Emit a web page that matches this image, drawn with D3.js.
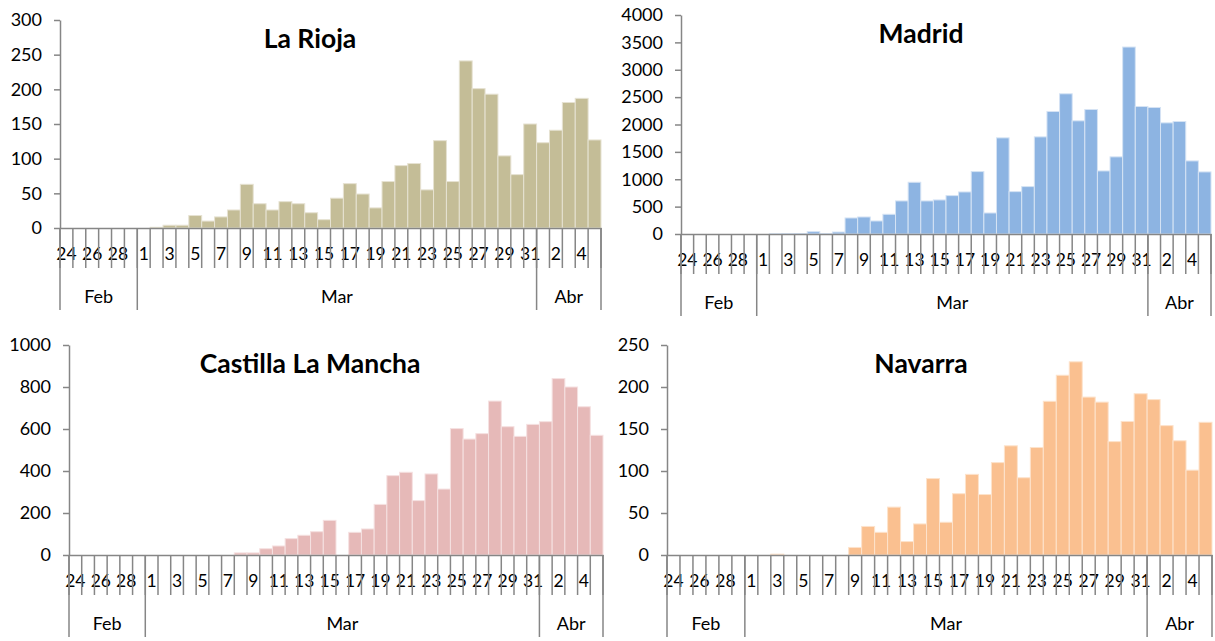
<!DOCTYPE html>
<html>
<head>
<meta charset="utf-8">
<script src="https://cdn.jsdelivr.net/npm/d3@7"></script>
<style>
  body { margin: 0; background: #fff; }
  svg { display: block; }
  text { font-family: Lato, "Open Sans", sans-serif; fill: #000; }
</style>
</head>
<body>
<script>
// days shown on the category axis (24 Feb - 5 Apr)
var dayLabels = ["24","25","26","27","28","29",
  "1","2","3","4","5","6","7","8","9","10","11","12","13","14","15","16",
  "17","18","19","20","21","22","23","24","25","26","27","28","29","30","31",
  "1","2","3","4","5"];
var monthNames = ["Feb", "Mar", "Abr"];
var monthLengths = [6, 31, 5];

var titles = ["La Rioja", "Madrid", "Castilla La Mancha", "Navarra"];

var rioja = [0,0,0,0,0,0,
  0,1,4,4,18,10,16,26,63,35,26,38,35,22,12,43,64,49,29,67,90,93,55,126,67,241,201,193,104,77,150,
  123,141,181,187,127];
var madrid = [0,0,0,0,0,0,
  0,3,5,8,43,5,36,293,311,238,360,604,945,604,622,701,768,1140,384,1756,774,866,1774,2238,2561,2067,2274,1152,1409,3415,2329,
  2311,2030,2055,1335,1134];
var castilla = [0,0,0,0,0,0,
  0,0,0,0,0,0,0,10,10,30,43,78,94,111,165,0,108,124,241,378,394,259,386,314,602,552,578,733,611,565,622,
  635,840,800,706,570];
var navarra = [0,0,0,0,0,0,
  0,0,1,0,0,0,0,0,9,34,27,57,16,37,91,39,73,96,72,110,130,92,128,183,214,230,188,182,135,159,192,
  185,154,136,101,158];

var yMax = [300, 4000, 1000, 250];
var yStep = [50, 500, 200, 50];

var w = 1215, h = 641;
var axisColor = "#868686";

var svg = d3.select("body").append("svg")
    .attr("width", w)
    .attr("height", h);

// panel layout (plot area in pixels)
var panels = [
  {left: 60,  right: 601,  top: 20,  zero: 228, titleX: 310, fill: "#c4bd97", stroke: "#e6e2d2"},
  {left: 681, right: 1211, top: 15,  zero: 234, titleX: 921, fill: "#8db4e2", stroke: "#d5e3f4"},
  {left: 69,  right: 603,  top: 345, zero: 555, titleX: 310, fill: "#e6b9b8", stroke: "#f5e1e1"},
  {left: 667, right: 1212, top: 345, zero: 555, titleX: 921, fill: "#fac090", stroke: "#fde3cc"}
];
var series = [rioja, madrid, castilla, navarra];

function drawPanel(p, values, title, max, step) {
    var idx = d3.range(values.length);
    var x = d3.scaleBand().domain(idx).range([p.left, p.right]).padding(0);
    var y = d3.scaleLinear().domain([0, max]).range([p.zero, p.top]);

    var g = svg.append("g");

    // bars (zero days draw nothing)
    g.selectAll("rect")
     .data(idx.filter(function(i) { return values[i] > 0; }))
     .enter()
     .append("rect")
     .attr("x", function(i) { return x(i); })
     .attr("y", function(i) { return y(values[i]); })
     .attr("width", x.bandwidth())
     .attr("height", function(i) { return p.zero - y(values[i]); })
     .style("fill", p.fill)
     .style("stroke", p.stroke)
     .style("stroke-width", 1);

    // y axis
    var yAxis = d3.axisLeft(y)
        .tickValues(d3.range(0, max + step / 2, step))
        .tickSize(6)
        .tickSizeOuter(0)
        .tickPadding(12)
        .tickFormat(d3.format("d"));
    var ya = g.append("g")
        .attr("transform", "translate(" + p.left + ",0)")
        .call(yAxis);
    ya.select(".domain").attr("stroke", axisColor).attr("stroke-width", 1.5);
    ya.selectAll(".tick line").attr("stroke", axisColor).attr("stroke-width", 1.5);
    ya.selectAll(".tick text")
      .style("font-size", "18px")
      .style("font-family", "Lato, sans-serif")
      .attr("fill", "#000");

    // category axis: labels every other day
    var xAxis = d3.axisBottom(x)
        .tickValues(idx.filter(function(i) { return i % 2 == 0; }))
        .tickFormat(function(i) { return dayLabels[i]; })
        .tickSize(0)
        .tickSizeOuter(0)
        .tickPadding(20);
    var xa = g.append("g")
        .attr("transform", "translate(0," + p.zero + ")")
        .call(xAxis);
    xa.select(".domain").attr("stroke", axisColor).attr("stroke-width", 1.5);
    xa.selectAll(".tick text")
      .style("font-size", "17.5px")
      .style("font-family", "Lato, sans-serif")
      .attr("fill", "#000");

    // day boundary lines
    var bounds = idx.map(function(i) { return x(i); }).concat([p.right]);
    g.selectAll("line.day")
     .data(bounds)
     .enter()
     .append("line")
     .attr("class", "day")
     .attr("x1", function(d) { return d; })
     .attr("x2", function(d) { return d; })
     .attr("y1", p.zero)
     .attr("y2", p.zero + 40)
     .attr("stroke", axisColor)
     .attr("stroke-width", 1.5);

    // month dividers and names
    var starts = [0];
    monthLengths.forEach(function(n, k) { starts.push(starts[k] + n); });
    var divX = starts.map(function(s) { return s < values.length ? x(s) : p.right; });
    g.selectAll("line.month")
     .data(divX)
     .enter()
     .append("line")
     .attr("class", "month")
     .attr("x1", function(d) { return d; })
     .attr("x2", function(d) { return d; })
     .attr("y1", p.zero)
     .attr("y2", p.zero + 82)
     .attr("stroke", axisColor)
     .attr("stroke-width", 1.5);

    g.selectAll("text.month")
     .data(monthNames)
     .enter()
     .append("text")
     .attr("class", "month")
     .attr("x", function(d, k) { return (divX[k] + divX[k + 1]) / 2; })
     .attr("y", p.zero + 75)
     .attr("text-anchor", "middle")
     .style("font-size", "18px")
     .text(function(d) { return d; });

    // title
    g.append("text")
     .attr("x", p.titleX)
     .attr("y", p.top + 28)
     .attr("text-anchor", "middle")
     .style("font-size", "26.5px")
     .style("font-weight", "bold")
     .text(title);
}

for (var k = 0; k < 4; k++) {
    drawPanel(panels[k], series[k], titles[k], yMax[k], yStep[k]);
}
</script>
</body>
</html>
